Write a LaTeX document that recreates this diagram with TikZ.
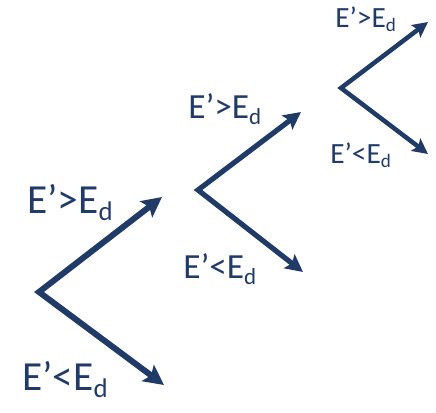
\documentclass[tikz,border=0pt]{standalone}
\usepackage{fontspec}
\setmainfont{Carlito}
\usepackage{graphicx}
\usetikzlibrary{arrows.meta}
\definecolor{navy}{HTML}{213B68}
\newcommand{\sbd}{\raisebox{-0.17em}{\scalebox{0.65}{d}}}
\begin{document}
\begin{tikzpicture}[x=0.75pt,y=-0.75pt,
  branch/.style={draw=navy,line join=miter,miter limit=20},
  bigarrow/.style={branch,line width=4.5pt,{Stealth[length=15pt,width=15pt,inset=3pt]}-{Stealth[length=15pt,width=15pt,inset=3pt]}},
  midarrow/.style={branch,line width=3.9pt,{Stealth[length=13pt,width=13pt,inset=2.5pt]}-{Stealth[length=13pt,width=13pt,inset=2.5pt]}},
  smallarrow/.style={branch,line width=3.4pt,{Stealth[length=11.5pt,width=11.5pt,inset=2.2pt]}-{Stealth[length=11.5pt,width=11.5pt,inset=2.2pt]}},
  lbl/.style={text=navy,inner sep=0pt,anchor=base west},
  big/.style={lbl,font=\fontsize{31pt}{32pt}\selectfont},
  mid/.style={lbl,font=\fontsize{26.5pt}{28pt}\selectfont},
  small/.style={lbl,font=\fontsize{22pt}{23pt}\selectfont}]
\useasboundingbox (0,0) rectangle (436,412);
% group 1
\coordinate (v1) at (39,292);
\coordinate (u1) at (162,197);
\coordinate (l1) at (164,385);
\draw[bigarrow] (u1) -- (v1) -- (l1);
\node[big] (a1) at (27,213) {E’>E\sbd};
\node[big] (b1) at (22,390) {E’<E\sbd};
% group 2
\coordinate (v2) at (198,190);
\coordinate (u2) at (301,112);
\coordinate (l2) at (303,272);
\draw[midarrow] (u2) -- (v2) -- (l2);
\node[mid] (a2) at (188,118) {E’>E\sbd};
\node[mid] (b2) at (183,278) {E’<E\sbd};
% group 3
\coordinate (v3) at (341,88);
\coordinate (u3) at (428,22);
\coordinate (l3) at (428,154);
\draw[smallarrow] (u3) -- (v3) -- (l3);
\node[small] (a3) at (335,27) {E’>E\sbd};
\node[small] (b3) at (330,163) {E’<E\sbd};
\end{tikzpicture}
\end{document}
